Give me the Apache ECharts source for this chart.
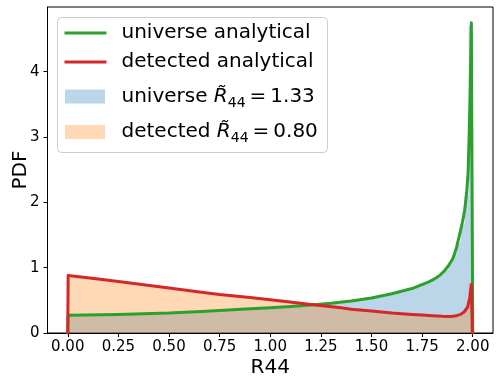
<!DOCTYPE html>
<html>
<head>
<meta charset="utf-8">
<script src="https://cdn.jsdelivr.net/npm/echarts@6/dist/echarts.min.js"></script>
<style>
html,body{margin:0;padding:0;background:#fff;}
#chart{width:500px;height:385px;}
</style>
</head>
<body>
<div id="chart"></div>
<script>
// ---- data ----
const xTicks = [0, 0.25, 0.5, 0.75, 1.0, 1.25, 1.5, 1.75, 2.0];
const yTicks = [0, 1, 2, 3, 4];

// universe analytical curve
const greenX = [0, 0.002, 0.25, 0.5, 0.66, 0.75, 0.9, 1.0, 1.1, 1.2, 1.3, 1.4, 1.5, 1.6, 1.7, 1.74, 1.78, 1.8, 1.82, 1.84, 1.86, 1.88, 1.9, 1.91, 1.92, 1.93, 1.94, 1.95, 1.96, 1.97, 1.977, 1.982, 1.987, 1.993, 2.0];
const greenY = [0, 0.27, 0.285, 0.305, 0.33, 0.345, 0.37, 0.385, 0.405, 0.43, 0.455, 0.49, 0.535, 0.6, 0.68, 0.73, 0.78, 0.81, 0.845, 0.89, 0.95, 1.03, 1.13, 1.21, 1.31, 1.44, 1.57, 1.71, 1.88, 2.15, 2.45, 3.0, 3.65, 4.75, 0];

// detected analytical curve
const redX = [0, 0.002, 0.14, 0.25, 0.5, 0.66, 0.75, 0.9, 1.0, 1.15, 1.2, 1.35, 1.4, 1.5, 1.6, 1.7, 1.75, 1.8, 1.85, 1.88, 1.9, 1.92, 1.94, 1.96, 1.975, 1.985, 1.993, 1.998];
const redY = [0, 0.88, 0.83, 0.79, 0.69, 0.625, 0.59, 0.545, 0.51, 0.455, 0.435, 0.385, 0.365, 0.335, 0.305, 0.285, 0.275, 0.265, 0.255, 0.253, 0.255, 0.265, 0.285, 0.33, 0.40, 0.54, 0.74, 0];

// histogram bin edges and densities
const binEdges = [0, 0.04, 0.08, 0.12, 0.16, 0.2, 0.24, 0.28, 0.32, 0.36, 0.4, 0.44, 0.48, 0.52, 0.56, 0.6, 0.64, 0.68, 0.72, 0.76, 0.8, 0.84, 0.88, 0.92, 0.96, 1.0, 1.04, 1.08, 1.12, 1.16, 1.2, 1.24, 1.28, 1.32, 1.36, 1.4, 1.44, 1.48, 1.52, 1.56, 1.6, 1.64, 1.68, 1.72, 1.76, 1.8, 1.82, 1.84, 1.86, 1.88, 1.9, 1.92, 1.94, 1.96, 1.98, 2.0];
const universeHist = [0.27, 0.27, 0.275, 0.275, 0.28, 0.28, 0.285, 0.29, 0.285, 0.295, 0.30, 0.30, 0.305, 0.31, 0.315, 0.32, 0.325, 0.335, 0.34, 0.35, 0.355, 0.36, 0.37, 0.375, 0.38, 0.39, 0.395, 0.405, 0.415, 0.425, 0.435, 0.445, 0.455, 0.47, 0.48, 0.495, 0.515, 0.535, 0.56, 0.585, 0.615, 0.645, 0.68, 0.73, 0.775, 0.83, 0.86, 0.9, 0.97, 1.07, 1.2, 1.38, 1.66, 2.1, 4.7];
const detectedHist = [0.87, 0.855, 0.84, 0.825, 0.81, 0.8, 0.785, 0.77, 0.755, 0.74, 0.725, 0.71, 0.69, 0.675, 0.66, 0.64, 0.625, 0.61, 0.595, 0.58, 0.57, 0.555, 0.545, 0.53, 0.515, 0.505, 0.49, 0.475, 0.46, 0.445, 0.43, 0.415, 0.40, 0.39, 0.375, 0.36, 0.35, 0.335, 0.325, 0.31, 0.30, 0.29, 0.285, 0.28, 0.27, 0.265, 0.26, 0.255, 0.255, 0.255, 0.265, 0.28, 0.31, 0.38, 0.77];

const legendLabels = ['universe analytical', 'detected analytical', ['universe ', '1.33'], ['detected ', '0.80']];

// ---- build ----
function pairs(xs, ys) { return xs.map((x, i) => [x, ys[i]]); }
function histPairs(edges, vals) {
  const d = vals.map((v, i) => [edges[i], v]);
  d.push([edges[edges.length - 1], vals[vals.length - 1]]);
  return d;
}
const FONT = 'DejaVu Sans';
const chart = echarts.init(document.getElementById('chart'), null, {renderer: 'canvas'});

const richStyle = {
  t: {fontSize: 20, fontFamily: FONT, lineHeight: 26, fill: '#000'},
  i: {fontSize: 20, fontFamily: FONT, fontStyle: 'italic', lineHeight: 26, fill: '#000'},
  s: {fontSize: 14, fontFamily: FONT, lineHeight: 14, verticalAlign: 'bottom', fill: '#000'}
};
function mathLabel(parts) {
  return '{t|' + parts[0] + '}{i|R\u0303}{s|44}{t|\u2009=\u2009' + parts[1] + '}';
}

const option = {
  backgroundColor: '#fff',
  animation: false,
  grid: {left: 47.5, right: 7, top: 7, bottom: 52, show: true, borderColor: '#000', borderWidth: 1,
         backgroundColor: 'transparent', containLabel: false, outerBoundsMode: 'none'},
  xAxis: {
    type: 'value', min: -0.1, max: 2.1,
    name: 'R44', nameLocation: 'middle', nameGap: 25, nameMoveOverlap: false,
    nameTextStyle: {fontFamily: FONT, fontSize: 20, color: '#000'},
    axisLine: {show: true, onZero: false, lineStyle: {color: '#000', width: 1}},
    axisTick: {show: true, length: 4, customValues: xTicks, lineStyle: {color: '#000'}},
    axisLabel: {customValues: xTicks, formatter: v => v.toFixed(2), fontFamily: FONT, fontSize: 15, color: '#000', margin: 7},
    splitLine: {show: false}
  },
  yAxis: {
    type: 'value', min: 0, max: 4.99,
    name: 'PDF', nameLocation: 'middle', nameGap: 17, nameRotate: 90, nameMoveOverlap: false,
    nameTextStyle: {fontFamily: FONT, fontSize: 20, color: '#000'},
    axisLine: {show: true, onZero: false, lineStyle: {color: '#000', width: 1}},
    axisTick: {show: true, length: 4, customValues: yTicks, lineStyle: {color: '#000'}},
    axisLabel: {customValues: yTicks, fontFamily: FONT, fontSize: 15, color: '#000', margin: 8},
    splitLine: {show: false}
  },
  series: [
    {name: 'universe hist', type: 'line', step: 'end', data: histPairs(binEdges, universeHist), showSymbol: false,
     lineStyle: {width: 0, opacity: 0}, areaStyle: {color: '#1f77b4', opacity: 0.3}, z: 1},
    {name: 'detected hist', type: 'line', step: 'end', data: histPairs(binEdges, detectedHist), showSymbol: false,
     lineStyle: {width: 0, opacity: 0}, areaStyle: {color: '#ff7f0e', opacity: 0.3}, z: 2},
    {name: legendLabels[0], type: 'line', data: pairs(greenX, greenY), showSymbol: false,
     lineStyle: {color: '#2ca02c', width: 3, join: 'round', cap: 'round'}, itemStyle: {color: '#2ca02c'}, z: 3},
    {name: legendLabels[1], type: 'line', data: pairs(redX, redY), showSymbol: false,
     lineStyle: {color: '#d62728', width: 3, join: 'round', cap: 'round'}, itemStyle: {color: '#d62728'}, z: 4}
  ],
  graphic: [
    {type: 'rect', z: 100, shape: {x: 57.5, y: 17.5, width: 270, height: 135, r: 4},
     style: {fill: 'rgba(255,255,255,0.8)', stroke: '#cccccc', lineWidth: 1}},
    {type: 'line', z: 101, shape: {x1: 64.5, y1: 33, x2: 106.5, y2: 33}, style: {stroke: '#2ca02c', lineWidth: 3}},
    {type: 'line', z: 101, shape: {x1: 64.5, y1: 62, x2: 106.5, y2: 62}, style: {stroke: '#d62728', lineWidth: 3}},
    {type: 'rect', z: 101, shape: {x: 65, y: 89.5, width: 40, height: 14}, style: {fill: 'rgba(31,119,180,0.3)'}},
    {type: 'rect', z: 101, shape: {x: 65, y: 125, width: 40, height: 14}, style: {fill: 'rgba(255,127,14,0.3)'}},
    {type: 'text', z: 101, x: 121.5, y: 33, style: {text: legendLabels[0], font: '20px "DejaVu Sans"', fill: '#000', verticalAlign: 'middle'}},
    {type: 'text', z: 101, x: 121.5, y: 62, style: {text: legendLabels[1], font: '20px "DejaVu Sans"', fill: '#000', verticalAlign: 'middle'}},
    {type: 'text', z: 101, x: 121.5, y: 97, style: {text: mathLabel(legendLabels[2]), rich: richStyle, verticalAlign: 'middle'}},
    {type: 'text', z: 101, x: 121.5, y: 132, style: {text: mathLabel(legendLabels[3]), rich: richStyle, verticalAlign: 'middle'}}
  ]
};
chart.setOption(option);
</script>
</body>
</html>
